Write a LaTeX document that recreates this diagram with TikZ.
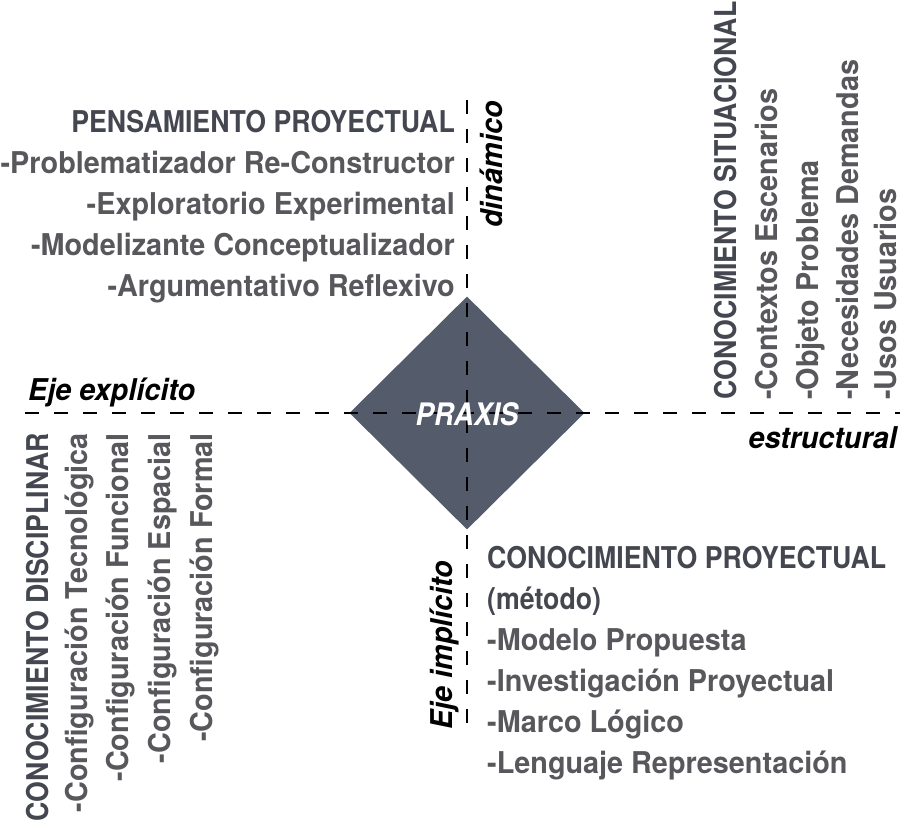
\documentclass[tikz,border=0pt]{standalone}
\usepackage{fontspec}
\setmainfont{TeX Gyre Heros}[FakeStretch=0.96]
\newfontfamily\headfont{TeX Gyre Heros}[FakeStretch=0.89]
\usetikzlibrary{shapes.geometric}
\definecolor{headc}{RGB}{68,71,80}
\definecolor{itemc}{RGB}{88,88,92}
\definecolor{diamc}{RGB}{84,91,107}
\tikzset{
  head/.style={inner sep=0pt, font=\fontsize{30}{36}\headfont\bfseries, text=headc},
  item/.style={inner sep=0pt, font=\fontsize{30}{36}\selectfont\bfseries, text=itemc},
  axislabel/.style={inner sep=0pt, font=\fontsize{30}{36}\selectfont\bfseries\itshape, text=black},
  axisline/.style={line width=2.6pt, dash pattern=on 14pt off 15pt},
}
\begin{document}
\begin{tikzpicture}[x=1pt,y=-1pt]
\fill[white] (0,0) rectangle (900,826);
\useasboundingbox (0,0) rectangle (900,826);
% central diamond
\node[diamond, fill=diamc, minimum width=235pt, minimum height=233pt, inner sep=0pt] (dia) at (467,413) {};
% axes
\coordinate (hl) at (25,413);
\coordinate (hr) at (900,413);
\coordinate (vt) at (467,100);
\coordinate (vb) at (467,730);
\draw[axisline] (hl) -- (hr);
\draw[axisline] (vt) -- (vb);
\node[inner sep=0pt, font=\fontsize{31}{37}\headfont\bfseries\itshape, text=white] (praxis) at (467,414) {PRAXIS};
% top-left
\node[head, anchor=base east] (pp) at (455,133) {PENSAMIENTO PROYECTUAL};
\node[item, anchor=base east] (pp1) at (455,174) {-Problematizador Re-Constructor};
\node[item, anchor=base east] (pp2) at (455,215) {-Exploratorio Experimental};
\node[item, anchor=base east] (pp3) at (455,256) {-Modelizante Conceptualizador};
\node[item, anchor=base east] (pp4) at (455,297) {-Argumentativo Reflexivo};
% bottom-right
\node[head, anchor=base west] (cp) at (487,568) {CONOCIMIENTO PROYECTUAL};
\node[head, anchor=base west] (cpm) at (487,609) {(método)};
\node[item, anchor=base west] (cp1) at (487,650) {-Modelo Propuesta};
\node[item, anchor=base west] (cp2) at (487,691) {-Investigación Proyectual};
\node[item, anchor=base west] (cp3) at (487,732) {-Marco Lógico};
\node[item, anchor=base west] (cp4) at (487,773) {-Lenguaje Representación};
% top-right (rotated)
\node[head, rotate=90, anchor=base west] (cs) at (736,400) {CONOCIMIENTO SITUACIONAL};
\node[item, rotate=90, anchor=base west] (cs1) at (777,400) {-Contextos Escenarios};
\node[item, rotate=90, anchor=base west] (cs2) at (818,400) {-Objeto Problema};
\node[item, rotate=90, anchor=base west] (cs3) at (858,400) {-Necesidades Demandas};
\node[item, rotate=90, anchor=base west] (cs4) at (896,400) {-Usos Usuarios};
% bottom-left (rotated)
\node[head, rotate=90, anchor=base east] (cd) at (48,433) {CONOCIMIENTO DISCIPLINAR};
\node[item, rotate=90, anchor=base east] (cd1) at (87,433) {-Configuración Tecnológica};
\node[item, rotate=90, anchor=base east] (cd2) at (128,433) {-Configuración Funcional};
\node[item, rotate=90, anchor=base east] (cd3) at (170,433) {-Configuración Espacial};
\node[item, rotate=90, anchor=base east] (cd4) at (212,433) {-Configuración Formal};
% axis labels
\node[axislabel, anchor=base west] (ejex) at (28,400) {Eje explícito};
\node[axislabel, anchor=base east] (estr) at (897,448) {estructural};
\node[axislabel, rotate=90, anchor=base east] (din) at (502,101) {dinámico};
\node[axislabel, rotate=90, anchor=base west] (ejei) at (452,730) {Eje implícito};
\end{tikzpicture}
\end{document}
